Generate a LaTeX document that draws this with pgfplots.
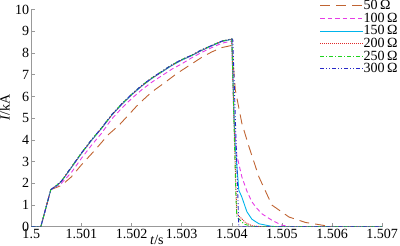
\documentclass[border=0pt]{standalone}
\usepackage{fontspec}
\setmainfont{Liberation Serif}
\usepackage{pgfplots}
\pgfplotsset{compat=1.18}
\definecolor{c50}{RGB}{192,100,50}
\definecolor{c100}{RGB}{230,60,230}
\definecolor{c150}{RGB}{0,180,235}
\definecolor{c200}{RGB}{225,40,40}
\definecolor{c250}{RGB}{30,210,30}
\definecolor{c300}{RGB}{40,40,200}
\begin{document}
\begin{tikzpicture}[font=\fontsize{14}{16}\selectfont]
\begin{axis}[
  scale only axis, width=349bp, height=216bp,
  xmin=0, xmax=7, ymin=0, ymax=10,
  xtick={0,1,2,3,4,5,6,7},
  xticklabels={1.5,1.501,1.502,1.503,1.504,1.505,1.506,1.507},
  ytick={0,1,...,10},
  yticklabels={0,1,2,3,4,5,6,7,8,9,10},
  axis x line*=bottom, axis y line*=left,
  axis line style={gray!80, line width=0.6pt, -},
  tick style={gray!80, line width=0.6pt},
  tick align=inside, major tick length=4pt,
  /pgf/number format/assume math mode=true,
  xticklabel style={font=\fontsize{14}{16}\selectfont, inner sep=2pt},
  yticklabel style={font=\fontsize{14}{16}\selectfont, inner sep=2pt},
  label style={font=\fontsize{14}{16}\selectfont},
  xlabel={\textit{t}/s}, ylabel={\textit{I}/kA},
  xlabel style={at={(axis description cs:0.358,-0.04)}, anchor=north, inner sep=0pt},
  ylabel style={at={(axis description cs:-0.075,0.55)}, anchor=center, inner sep=0pt},
  legend style={draw=none, fill=none, at={(rel axis cs:1.045,1.045)}, anchor=north east,
    font=\fontsize{14}{14}\selectfont, row sep=1.2pt, inner sep=0pt,
    nodes={inner sep=0.3pt}},
  legend cell align=left,
  legend image code/.code={\draw[#1] (0cm,0cm) -- (1.5cm,0cm);},
  every axis plot/.append style={line width=0.9pt},
]
\addplot[c50, dash pattern=on 10pt off 6pt] coordinates {
(0,0) (0.19,0) (0.39,1.71) (0.6,1.9) (0.8,2.3) (1.0,2.85) (1.27,3.53) (1.54,4.25)
(1.74,4.65) (2.0,5.3) (2.14,5.65) (2.4,6.2) (2.67,6.65) (2.9,7.05) (3.2,7.5)
(3.4,7.8) (3.6,8.05) (3.8,8.25) (4.0,8.35) (4.07,6.3) (4.2,4.77) (4.34,3.7)
(4.54,2.3) (4.8,1.0) (5.14,0.45) (5.47,0.2) (5.87,0.05) (6.1,0) (7,0)};
\addlegendentry{50\,Ω}
\addplot[c100, dash pattern=on 4.5pt off 3pt] coordinates {
(0,0) (0.19,0) (0.39,1.71) (0.5,1.85) (0.6,2.0) (0.8,2.5) (1.0,3.15) (1.2,3.75)
(1.4,4.3) (1.6,4.95) (1.8,5.45) (2.0,5.9) (2.2,6.3) (2.4,6.65) (2.6,6.95)
(2.8,7.25) (3.0,7.5) (3.2,7.78) (3.4,8.03) (3.6,8.25) (3.8,8.45) (4.0,8.55)
(4.04,5.0) (4.1,3.3) (4.2,2.3) (4.3,1.65) (4.4,1.15) (4.5,0.85) (4.6,0.6)
(4.8,0.3) (5.0,0.07) (5.2,0) (7,0)};
\addlegendentry{100\,Ω}
\addplot[c150] coordinates {
(0,0) (0.19,0) (0.39,1.71) (0.5,1.88) (0.6,2.08) (0.8,2.72) (1.0,3.37) (1.2,3.97)
(1.4,4.52) (1.6,5.12) (1.8,5.62) (2.0,6.07) (2.2,6.47) (2.4,6.82) (2.6,7.12)
(2.8,7.42) (3.0,7.67) (3.2,7.88) (3.4,8.12) (3.6,8.33) (3.8,8.53) (4.0,8.63)
(4.06,4.0) (4.14,1.68) (4.2,1.37) (4.3,0.7) (4.4,0.35) (4.54,0.14) (4.8,0.02)
(5.0,0) (7,0)};
\addlegendentry{150\,Ω}
\addplot[c200, dash pattern=on 1pt off 1pt] coordinates {
(0,0) (0.19,0) (0.39,1.71) (0.5,1.89) (0.6,2.09) (0.8,2.73) (1.0,3.38) (1.2,3.98)
(1.4,4.53) (1.6,5.13) (1.8,5.63) (2.0,6.08) (2.2,6.48) (2.4,6.83) (2.6,7.13)
(2.8,7.43) (3.0,7.68) (3.2,7.89) (3.4,8.13) (3.6,8.34) (3.8,8.54) (4.0,8.64)
(4.08,2.0) (4.1,0.6) (4.27,0.2) (4.4,0.05) (4.6,0) (7,0)};
\addlegendentry{200\,Ω}
\addplot[c250, dash pattern=on 4pt off 2pt on 1pt off 2pt] coordinates {
(0,0) (0.19,0) (0.39,1.71) (0.5,1.9) (0.6,2.1) (0.8,2.75) (1.0,3.4) (1.2,4.0)
(1.4,4.55) (1.6,5.15) (1.8,5.65) (2.0,6.1) (2.2,6.5) (2.4,6.85) (2.6,7.15)
(2.8,7.45) (3.0,7.7) (3.2,7.9) (3.4,8.15) (3.6,8.35) (3.8,8.55) (4.0,8.65)
(4.08,1.5) (4.1,0.45) (4.25,0.12) (4.4,0.02) (4.5,0) (7,0)};
\addlegendentry{250\,Ω}
\addplot[c300, dash pattern=on 4pt off 2pt on 1pt off 2pt on 1pt off 2pt] coordinates {
(0,0) (0.19,0) (0.39,1.71) (0.5,1.9) (0.6,2.1) (0.8,2.75) (1.0,3.4) (1.2,4.0)
(1.4,4.55) (1.6,5.15) (1.8,5.65) (2.0,6.1) (2.2,6.5) (2.4,6.85) (2.6,7.15)
(2.8,7.45) (3.0,7.7) (3.2,7.9) (3.4,8.15) (3.6,8.35) (3.8,8.55) (4.0,8.65)
(4.02,8.6) (4.14,0) (7,0)};
\addlegendentry{300\,Ω}
\end{axis}
\end{tikzpicture}
\end{document}
